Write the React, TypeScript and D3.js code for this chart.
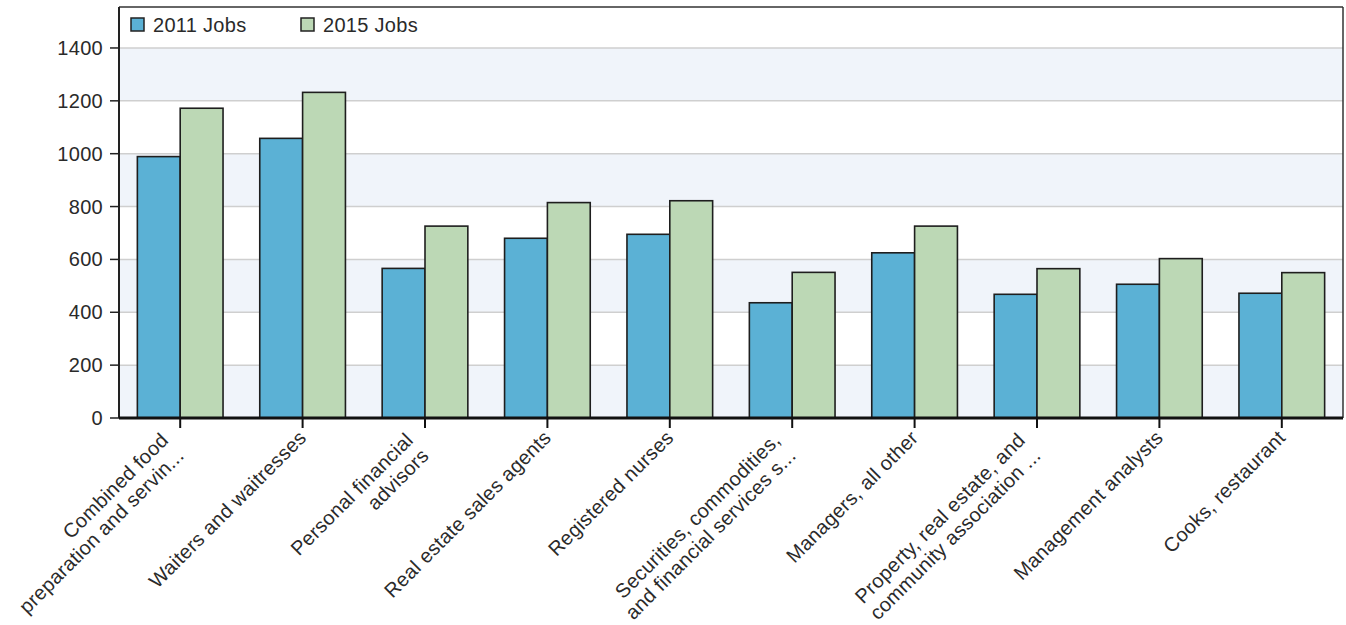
import React from 'react';
import * as d3 from 'd3';

const categoryLines: string[][] = [
  ['Combined food', 'preparation and servin...'],
  ['Waiters and waitresses'],
  ['Personal financial', 'advisors'],
  ['Real estate sales agents'],
  ['Registered nurses'],
  ['Securities, commodities,', 'and financial services s...'],
  ['Managers, all other'],
  ['Property, real estate, and', 'community association ...'],
  ['Management analysts'],
  ['Cooks, restaurant'],
];
const categories = categoryLines.map((l) => l.join(' '));
const jobs2011 = [989, 1058, 566, 680, 695, 436, 625, 468, 506, 472];
const jobs2015 = [1172, 1232, 726, 815, 822, 551, 726, 565, 603, 550];
const seriesNames = ['2011 Jobs', '2015 Jobs'];
const seriesColors = ['#5bb1d5', '#bcd8b5'];
const yTicks = [0, 200, 400, 600, 800, 1000, 1200, 1400];

const W = 1346;
const H = 625;
const left = 119;
const right = 1343;
const top = 7;
const bottom = 418;
const FONT = '"Liberation Sans", Arial, sans-serif';

export default function App() {
  const y = d3.scaleLinear().domain([0, 1555]).range([bottom, top]);
  const x0 = d3
    .scaleBand<string>()
    .domain(categories)
    .range([left, right])
    .paddingInner(0.3)
    .paddingOuter(0.15);
  const x1 = d3.scaleBand<string>().domain(seriesNames).range([0, x0.bandwidth()]);
  const series = [jobs2011, jobs2015];

  const stripes = [] as { y0: number; y1: number }[];
  for (let i = 0; i + 1 < yTicks.length; i += 2) {
    stripes.push({ y0: yTicks[i], y1: yTicks[i + 1] });
  }

  return (
    <svg width={W} height={H} style={{ position: 'absolute', left: 0, top: 0, background: '#fff' }} fontFamily={FONT} letterSpacing={0.3}>
      <rect x={left} y={top} width={right - left} height={bottom - top} fill="#ffffff" />
      {stripes.map((s, i) => (
        <rect key={i} x={left} y={y(s.y1)} width={right - left} height={y(s.y0) - y(s.y1)} fill="#f0f4fa" />
      ))}
      {yTicks.slice(1).map((t) => (
        <line key={t} x1={left} x2={right} y1={y(t)} y2={y(t)} stroke="#cfcfcf" strokeWidth={1.5} />
      ))}
      {categories.map((c, ci) => (
        <g key={c} transform={`translate(${x0(c)},0)`}>
          {series.map((vals, si) => (
            <rect
              key={si}
              x={x1(seriesNames[si])}
              y={y(vals[ci])}
              width={x1.bandwidth()}
              height={bottom - y(vals[ci])}
              fill={seriesColors[si]}
              stroke="#1e1e1e"
              strokeWidth={1.6}
            />
          ))}
        </g>
      ))}
      {/* border */}
      <line x1={left} x2={right} y1={top} y2={top} stroke="#333" strokeWidth={1.5} />
      <line x1={right} x2={right} y1={top} y2={bottom} stroke="#333" strokeWidth={1.5} />
      <line x1={left} x2={left} y1={top} y2={bottom} stroke="#222" strokeWidth={2} />
      {/* y ticks */}
      {yTicks.map((t) => (
        <g key={t}>
          <line x1={left - 9} x2={left} y1={y(t)} y2={y(t)} stroke="#222" strokeWidth={1.5} />
          <text x={left - 16} y={y(t)} dy="0.35em" textAnchor="end" fontSize={20} fill="#2a2a2a">
            {t}
          </text>
        </g>
      ))}
      {/* x axis */}
      <line x1={left} x2={right} y1={bottom} y2={bottom} stroke="#111" strokeWidth={3} />
      {categories.map((c, ci) => {
        const cx = (x0(c) as number) + x0.bandwidth() / 2;
        const lines = categoryLines[ci];
        const n = lines.length;
        const ay = 434 + (n - 1) * 18;
        return (
          <g key={c}>
            <line x1={cx} x2={cx} y1={bottom} y2={bottom + 10} stroke="#111" strokeWidth={2} />
            <text transform={`translate(${cx},${ay}) rotate(-45)`} textAnchor="end" fontSize={20} fill="#2a2a2a">
              {lines.map((l, li) => (
                <tspan key={li} x={0} y={(li - (n - 1)) * 22} dy="0.35em">
                  {l}
                </tspan>
              ))}
            </text>
          </g>
        );
      })}
      {/* legend */}
      {seriesNames.map((s, i) => {
        const lx = 131 + i * 170;
        return (
          <g key={s}>
            <rect x={lx} y={18} width={13} height={13} fill={seriesColors[i]} stroke="#222" strokeWidth={1.5} />
            <text x={lx + 22} y={25} dy="0.35em" fontSize={20} fill="#2a2a2a">
              {s}
            </text>
          </g>
        );
      })}
    </svg>
  );
}
